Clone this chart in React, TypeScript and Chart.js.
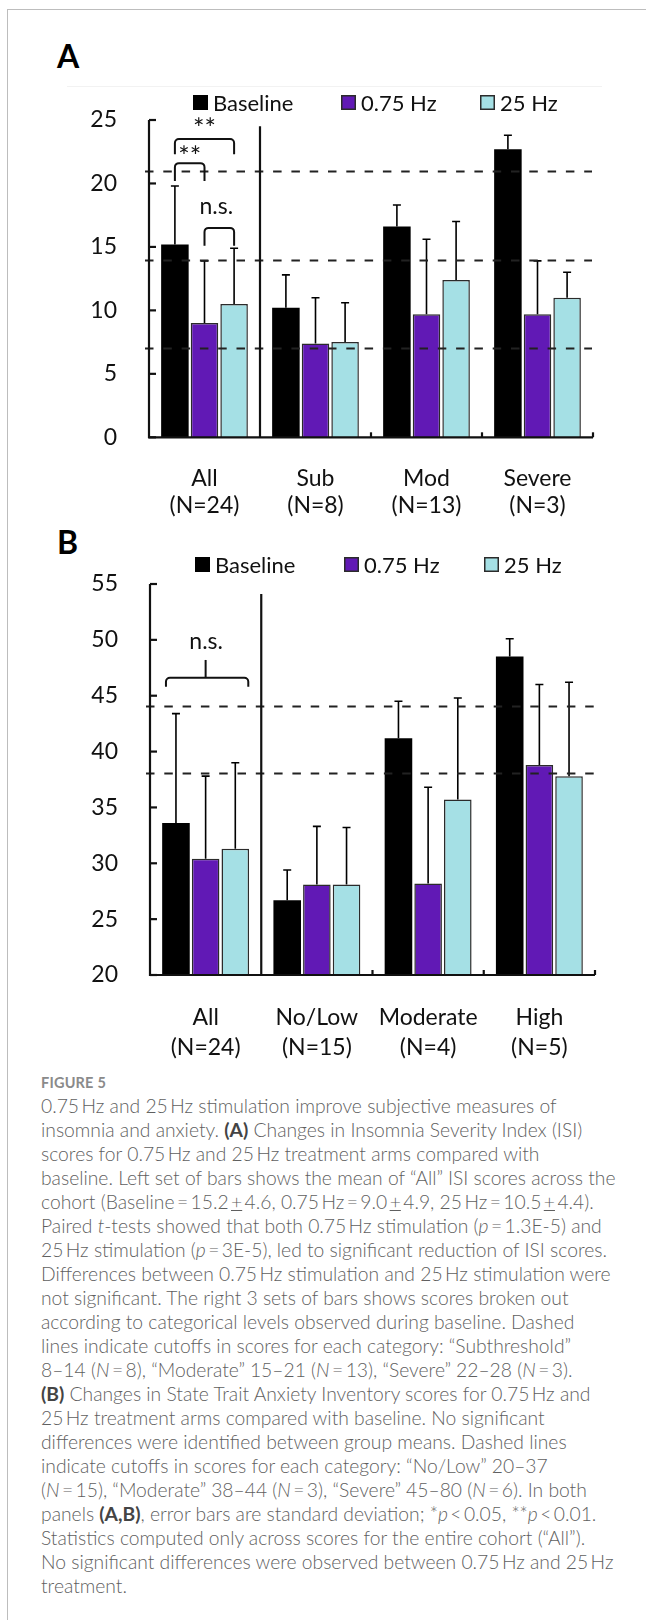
import React, { useEffect, useRef } from "react";
import { Chart, registerables } from "chart.js";

Chart.register(...registerables);

const FONT = "Lato, 'Open Sans', Arial, sans-serif";
const PURPLE = "#6119b5";
const CYAN = "#a5e0e5";
const EDGE = "#2b2b2b";
const INK = "#111";

const seriesLabels = ["Baseline", "0.75 Hz", "25 Hz"];

// ---- Panel A: Insomnia Severity Index ----
const isiCategories = [["All", "(N=24)"], ["Sub", "(N=8)"], ["Mod", "(N=13)"], ["Severe", "(N=3)"]];
const isiBaseline = [15.2, 10.2, 16.6, 22.7];
const isiHz075 = [9.0, 7.4, 9.7, 9.7];
const isiHz25 = [10.5, 7.5, 12.4, 11.0];
const isiBaselineSD = [4.6, 2.6, 1.7, 1.1];
const isiHz075SD = [4.9, 3.6, 5.9, 4.2];
const isiHz25SD = [4.4, 3.1, 4.6, 2.0];
const isiCutoffs = [7, 14, 21];
const isiTickRange = [0, 25, 5]; // min, max, step

// ---- Panel B: State Trait Anxiety Inventory ----
const staiCategories = [["All", "(N=24)"], ["No/Low", "(N=15)"], ["Moderate", "(N=4)"], ["High", "(N=5)"]];
const staiBaseline = [33.6, 26.7, 41.2, 48.5];
const staiHz075 = [30.4, 28.1, 28.2, 38.8];
const staiHz25 = [31.3, 28.1, 35.7, 37.8];
const staiBaselineSD = [9.8, 2.7, 3.3, 1.6];
const staiHz075SD = [7.4, 5.2, 8.6, 7.2];
const staiHz25SD = [7.7, 5.1, 9.1, 8.4];
const staiCutoffs = [38.1, 44.1];
const staiTickRange = [20, 55, 5];

function strokeBracket(ctx: any, x1: number, x2: number, yTop: number, yLeg: number, r: number) {
  ctx.beginPath();
  ctx.moveTo(x1, yLeg);
  ctx.arcTo(x1, yTop, x2, yTop, r);
  ctx.arcTo(x2, yTop, x2, yLeg, r);
  ctx.lineTo(x2, yLeg);
  ctx.stroke();
}

// draw text so that its ink box is centred on (cx, cy)
function fillInkCentered(ctx: any, text: string, cx: number, cy: number) {
  ctx.textAlign = "center";
  ctx.textBaseline = "alphabetic";
  const m = ctx.measureText(text);
  const asc = m.actualBoundingBoxAscent || 0;
  const desc = m.actualBoundingBoxDescent || 0;
  ctx.fillText(text, cx, cy + (asc - desc) / 2);
}

const decorPlugin = {
  id: "decor",
  afterDatasetsDraw(chart: any, _args: any, opts: any) {
    const { ctx, chartArea: ca, scales } = chart;
    const xs = scales.x;
    const ys = scales.y;
    ctx.save();
    ctx.lineCap = "butt";

    // error bars (upper SD)
    chart.data.datasets.forEach((ds: any, di: number) => {
      const meta = chart.getDatasetMeta(di);
      const sd = opts.sd[di];
      meta.data.forEach((bar: any, i: number) => {
        const top = ys.getPixelForValue(ds.data[i] + sd[i]);
        ctx.strokeStyle = "#000";
        ctx.lineWidth = 1.6;
        ctx.beginPath();
        ctx.moveTo(bar.x, bar.y);
        ctx.lineTo(bar.x, top);
        ctx.moveTo(bar.x - 4, top);
        ctx.lineTo(bar.x + 4, top);
        ctx.stroke();
      });
    });

    // dashed cutoff lines
    ctx.strokeStyle = "#222";
    ctx.lineWidth = 2;
    ctx.setLineDash([8.5, 9.8]);
    opts.cutoffs.forEach((v: number) => {
      const py = Math.round(ys.getPixelForValue(v)) + 0.5;
      ctx.beginPath();
      ctx.moveTo(ca.left - 4, py);
      ctx.lineTo(ca.right + opts.dashExtra, py);
      ctx.stroke();
    });
    ctx.setLineDash([]);

    // axes
    ctx.strokeStyle = INK;
    ctx.lineWidth = 2.2;
    ctx.beginPath();
    ctx.moveTo(ca.left, ca.top);
    ctx.lineTo(ca.left, ca.bottom + 1);
    ctx.moveTo(ca.left - 1, ca.bottom);
    ctx.lineTo(ca.right, ca.bottom);
    ctx.stroke();
    // y ticks (inward)
    ys.ticks.forEach((t: any) => {
      const py = ys.getPixelForValue(t.value);
      ctx.beginPath();
      ctx.moveTo(ca.left, py);
      ctx.lineTo(ca.left + 7, py);
      ctx.stroke();
    });
    // x category boundary ticks (upward)
    const n = chart.data.labels.length;
    const half = (xs.getPixelForValue(1) - xs.getPixelForValue(0)) / 2;
    for (let i = 1; i < n; i++) {
      const px = xs.getPixelForValue(i) + half;
      ctx.beginPath();
      ctx.moveTo(px, ca.bottom);
      ctx.lineTo(px, ca.bottom - 5);
      ctx.stroke();
    }
    // separator between "All" and the subgroups
    const sepX = xs.getPixelForValue(0) + half;
    ctx.beginPath();
    ctx.moveTo(sepX, ys.getPixelForValue(opts.sepTop));
    ctx.lineTo(sepX, ca.bottom);
    ctx.stroke();

    // significance annotations
    const barX = (d: number, i: number) => chart.getDatasetMeta(d).data[i].x;
    ctx.lineWidth = 2;
    ctx.fillStyle = INK;
    (opts.annotations || []).forEach((a: any) => {
      const x1 = barX(a.a[0], a.a[1]) + (a.dxA || 0);
      const x2 = barX(a.b[0], a.b[1]) + (a.dxB || 0);
      const yTop = ys.getPixelForValue(a.top);
      const yLeg = ys.getPixelForValue(a.leg);
      strokeBracket(ctx, x1, x2, yTop, yLeg, 4);
      if (a.kind === "brace") {
        const xm = barX(a.mid[0], a.mid[1]);
        ctx.beginPath();
        ctx.moveTo(xm, yTop);
        ctx.lineTo(xm, ys.getPixelForValue(a.notch));
        ctx.stroke();
      }
      ctx.font = `${a.size}px ${FONT}`;
      fillInkCentered(ctx, a.label, (x1 + x2) / 2 + (a.labelDx || 0), ys.getPixelForValue(a.labelY));
    });
    ctx.restore();
  },
  afterDraw(chart: any, _args: any, opts: any) {
    const { ctx } = chart;
    const L = opts.legend;
    ctx.save();
    ctx.font = `${L.size}px ${FONT}`;
    ctx.textBaseline = "middle";
    ctx.textAlign = "left";
    chart.data.datasets.forEach((ds: any, i: number) => {
      const bx = L.xs[i];
      ctx.fillStyle = ds.backgroundColor;
      ctx.fillRect(bx, L.y - 7.5, 15, 15);
      ctx.strokeStyle = i === 0 ? "#000" : EDGE;
      ctx.lineWidth = 1.5;
      ctx.strokeRect(bx + 0.75, L.y - 6.75, 13.5, 13.5);
      ctx.fillStyle = INK;
      ctx.fillText(ds.label, bx + 20, L.y + 1);
    });
    ctx.restore();
  },
};

function makeConfig(p: any) {
  return {
    type: "bar",
    data: {
      labels: p.labels,
      datasets: [
        { label: seriesLabels[0], data: p.series[0], backgroundColor: "#000", borderColor: "#000", borderWidth: 0 },
        { label: seriesLabels[1], data: p.series[1], backgroundColor: PURPLE, borderColor: EDGE, borderWidth: 1.5 },
        { label: seriesLabels[2], data: p.series[2], backgroundColor: CYAN, borderColor: EDGE, borderWidth: 1.5 },
      ],
    },
    options: {
      responsive: false,
      animation: false,
      devicePixelRatio: 1,
      layout: { padding: { top: p.padTop, right: p.padRight, left: 0, bottom: 0 } },
      datasets: { bar: { categoryPercentage: 0.8, barPercentage: 0.93 } },
      plugins: {
        legend: { display: false },
        tooltip: { enabled: false },
        decor: {
          sd: p.sd,
          cutoffs: p.cutoffs,
          dashExtra: p.dashExtra,
          sepTop: p.sepTop,
          annotations: p.annotations,
          legend: p.legend,
        },
      },
      scales: {
        x: {
          grid: { display: false },
          border: { display: false },
          ticks: {
            color: INK,
            font: { family: FONT, size: p.xFont, lineHeight: p.xLineHeight },
            padding: p.xPad,
            maxRotation: 0,
            autoSkip: false,
          },
          afterFit: (s: any) => {
            s.height = p.xHeight;
          },
        },
        y: {
          min: p.range[0],
          max: p.range[1],
          grid: { display: false },
          border: { display: false },
          ticks: { stepSize: p.range[2], color: INK, font: { family: FONT, size: 23 }, padding: p.yPad },
          afterFit: (s: any) => {
            s.width = p.yWidth;
          },
        },
      },
    },
    plugins: [decorPlugin],
  };
}

const configA = () =>
  makeConfig({
    labels: isiCategories,
    series: [isiBaseline, isiHz075, isiHz25],
    sd: [isiBaselineSD, isiHz075SD, isiHz25SD],
    cutoffs: isiCutoffs,
    range: isiTickRange,
    padTop: 40,
    padRight: 53,
    yWidth: 149,
    yPad: 24,
    xHeight: 82.7,
    xFont: 23,
    xLineHeight: 1.16,
    xPad: 20,
    dashExtra: -1,
    sepTop: 24.5,
    legend: { y: 22.5, xs: [193, 341, 480], size: 22 },
    annotations: [
      { kind: "bracket", a: [0, 0], b: [2, 0], top: 23.5, leg: 22.3, label: "**", labelY: 24.9, size: 27 },
      { kind: "bracket", a: [0, 0], b: [1, 0], top: 21.6, leg: 20.2, label: "**", labelY: 22.7, size: 27 },
      { kind: "bracket", a: [1, 0], b: [2, 0], top: 16.5, leg: 15.1, label: "n.s.", labelY: 18.1, size: 23, labelDx: -3 },
    ],
  });

const configB = () =>
  makeConfig({
    labels: staiCategories,
    series: [staiBaseline, staiHz075, staiHz25],
    sd: [staiBaselineSD, staiHz075SD, staiHz25SD],
    cutoffs: staiCutoffs,
    range: staiTickRange,
    padTop: 44,
    padRight: 51,
    yWidth: 150,
    yPad: 24,
    xHeight: 95,
    xFont: 23,
    xLineHeight: 1.3,
    xPad: 19.5,
    dashExtra: 6,
    sepTop: 54.1,
    legend: { y: 24.5, xs: [195, 344, 484], size: 22 },
    annotations: [
      {
        kind: "brace",
        a: [0, 0],
        b: [2, 0],
        mid: [1, 0],
        dxA: -10,
        dxB: 13,
        top: 46.6,
        leg: 45.8,
        notch: 48.2,
        label: "n.s.",
        labelY: 49.7,
        size: 23,
        labelDx: -1,
      },
    ],
  });

function Panel({ makeCfg, top, height }: any) {
  const ref = useRef<HTMLCanvasElement | null>(null);
  useEffect(() => {
    const chart = new Chart(ref.current as any, makeCfg() as any);
    return () => chart.destroy();
  }, []);
  return (
    <canvas
      ref={ref}
      width={646}
      height={height}
      style={{ position: "absolute", left: 0, top, width: 646, height }}
    />
  );
}

const T = "\u2009";
const PM = () => <span style={{ textDecoration: "underline" }}>+</span>;
const B = ({ children }: any) => <b style={{ fontWeight: 700, color: "#444" }}>{children}</b>;

const captionLines = [
  <>0.75{T}Hz and 25{T}Hz stimulation improve subjective measures of</>,
  <>insomnia and anxiety. <B>(A)</B> Changes in Insomnia Severity Index (ISI)</>,
  <>scores for 0.75{T}Hz and 25{T}Hz treatment arms compared with</>,
  <>baseline. Left set of bars shows the mean of “All” ISI scores across the</>,
  <>cohort (Baseline{T}={T}15.2{T}<PM />{T}4.6, 0.75{T}Hz{T}={T}9.0{T}<PM />{T}4.9, 25{T}Hz{T}={T}10.5{T}<PM />{T}4.4).</>,
  <>Paired <i>t</i>-tests showed that both 0.75{T}Hz stimulation (<i>p</i>{T}={T}1.3E-5) and</>,
  <>25{T}Hz stimulation (<i>p</i>{T}={T}3E-5), led to significant reduction of ISI scores.</>,
  <>Differences between 0.75{T}Hz stimulation and 25{T}Hz stimulation were</>,
  <>not significant. The right 3 sets of bars shows scores broken out</>,
  <>according to categorical levels observed during baseline. Dashed</>,
  <>lines indicate cutoffs in scores for each category: “Subthreshold”</>,
  <>8–14 (<i>N</i>{T}={T}8), “Moderate” 15–21 (<i>N</i>{T}={T}13), “Severe” 22–28 (<i>N</i>{T}={T}3).</>,
  <><B>(B)</B> Changes in State Trait Anxiety Inventory scores for 0.75{T}Hz and</>,
  <>25{T}Hz treatment arms compared with baseline. No significant</>,
  <>differences were identified between group means. Dashed lines</>,
  <>indicate cutoffs in scores for each category: “No/Low” 20–37</>,
  <>(<i>N</i>{T}={T}15), “Moderate” 38–44 (<i>N</i>{T}={T}3), “Severe” 45–80 (<i>N</i>{T}={T}6). In both</>,
  <>panels <B>(A,B)</B>, error bars are standard deviation; *<i>p</i>{T}&lt;{T}0.05, **<i>p</i>{T}&lt;{T}0.01.</>,
  <>Statistics computed only across scores for the entire cohort (“All”).</>,
  <>No significant differences were observed between 0.75{T}Hz and 25{T}Hz</>,
  <>treatment.</>,
];

export default function App() {
  return (
    <div
      style={{
        position: "fixed",
        left: 0,
        top: 0,
        width: 646,
        height: 1620,
        overflow: "hidden",
        background: "#fff",
        fontFamily: FONT,
      }}
    >
      <div
        style={{
          position: "absolute",
          left: 7,
          top: 9,
          width: 720,
          height: 1700,
          borderLeft: "1.5px solid #bdbdbd",
          borderTop: "1.5px solid #bdbdbd",
        }}
      />
      <div style={{ position: "absolute", left: 67, top: 86, width: 535, height: 1, background: "#f2f2f2" }} />
      <div style={{ position: "absolute", left: 57, top: 39.6, font: `bold 32px/32px ${FONT}`, color: "#000" }}>A</div>
      <div style={{ position: "absolute", left: 57, top: 525.6, font: `bold 32px/32px ${FONT}`, color: "#000" }}>B</div>
      <Panel makeCfg={configA} top={80} height={440} />
      <Panel makeCfg={configB} top={540} height={530} />
      <div
        style={{
          position: "absolute",
          left: 41,
          top: 1073,
          font: `700 14.5px/20px ${FONT}`,
          color: "#8a8a8a",
          letterSpacing: 0.2,
        }}
      >
        FIGURE 5
      </div>
      {captionLines.map((line, i) => (
        <div
          key={i}
          style={{
            position: "absolute",
            left: 41,
            top: 1093.7 + i * 24,
            whiteSpace: "nowrap",
            font: `300 19.3px/24px ${FONT}`,
            color: "#5f5f5f",
          }}
        >
          {line}
        </div>
      ))}
    </div>
  );
}
